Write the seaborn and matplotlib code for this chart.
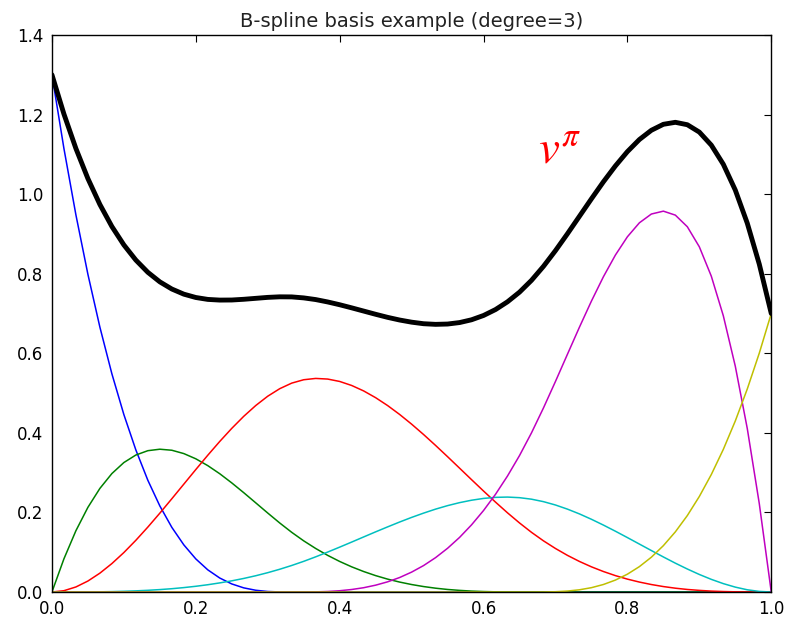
import numpy as np
import seaborn as sns
import matplotlib.pyplot as plt

# x grid shared by all curves (61 points on [0, 1])
x = np.linspace(0, 1, 61)

blue = [1.3, 1.1146, 0.9477, 0.7984, 0.6656, 0.5484, 0.4459, 0.3570, 0.2808, 0.2163,
        0.1625, 0.1185, 0.0832, 0.0557, 0.0351, 0.0203, 0.0104, 0.0044, 0.0013, 0.0002,
        0, 0, 0, 0, 0, 0, 0, 0, 0, 0,
        0, 0, 0, 0, 0, 0, 0, 0, 0, 0,
        0, 0, 0, 0, 0, 0, 0, 0, 0, 0,
        0, 0, 0, 0, 0, 0, 0, 0, 0, 0, 0]

green = [0, 0.0834, 0.1541, 0.2128, 0.2604, 0.2977, 0.3254, 0.3443, 0.3552, 0.3589,
         0.3563, 0.3479, 0.3348, 0.3176, 0.2972, 0.2742, 0.2496, 0.2241, 0.1985, 0.1735,
         0.15, 0.1286, 0.1094, 0.0921, 0.0768, 0.0633, 0.0515, 0.0412, 0.0324, 0.0250,
         0.0188, 0.0137, 0.0096, 0.0064, 0.0041, 0.0023, 0.0012, 0.0005, 0.0002, 0,
         0, 0, 0, 0, 0, 0, 0, 0, 0, 0,
         0, 0, 0, 0, 0, 0, 0, 0, 0, 0, 0]

red = [0, 0.0033, 0.0127, 0.0276, 0.0474, 0.0715, 0.0992, 0.1300, 0.1632, 0.1982,
       0.2344, 0.2711, 0.3078, 0.3438, 0.3785, 0.4113, 0.4416, 0.4687, 0.4921, 0.5110,
       0.525, 0.5335, 0.5368, 0.5352, 0.5292, 0.5191, 0.5054, 0.4884, 0.4686, 0.4463,
       0.4219, 0.3958, 0.3684, 0.3401, 0.3113, 0.2824, 0.2538, 0.2259, 0.1990, 0.1736,
       0.15, 0.1286, 0.1094, 0.0921, 0.0768, 0.0633, 0.0515, 0.0412, 0.0324, 0.0250,
       0.0188, 0.0137, 0.0096, 0.0064, 0.0041, 0.0023, 0.0012, 0.0005, 0.0002, 0, 0]

cyan = [0, 0, 0.0001, 0.0002, 0.0005, 0.0010, 0.0018, 0.0029, 0.0043, 0.0061,
        0.0083, 0.0111, 0.0144, 0.0183, 0.0229, 0.0281, 0.0341, 0.0409, 0.0486, 0.0572,
        0.0667, 0.0771, 0.0884, 0.1004, 0.1128, 0.1255, 0.1384, 0.1512, 0.1637, 0.1759,
        0.1875, 0.1983, 0.2083, 0.2171, 0.2246, 0.2307, 0.2352, 0.2379, 0.2386, 0.2371,
        0.2333, 0.2271, 0.2187, 0.2083, 0.1963, 0.1828, 0.1682, 0.1528, 0.1368, 0.1205,
        0.1042, 0.0881, 0.0725, 0.0578, 0.0441, 0.0318, 0.0211, 0.0123, 0.0056, 0.0015, 0]

magenta = [0, 0, 0, 0, 0, 0, 0, 0, 0, 0,
           0, 0, 0, 0, 0, 0, 0, 0, 0, 0,
           0, 0, 0.0004, 0.0013, 0.0032, 0.0063, 0.0108, 0.0172, 0.0256, 0.0364,
           0.05, 0.0665, 0.0864, 0.1099, 0.1372, 0.1688, 0.2048, 0.2456, 0.2916, 0.3429,
           0.4, 0.4627, 0.5292, 0.5976, 0.6656, 0.7312, 0.7924, 0.8469, 0.8928, 0.9279,
           0.95, 0.9572, 0.9472, 0.9180, 0.8676, 0.7937, 0.6944, 0.5675, 0.4108, 0.2224, 0]

yellow = [0, 0, 0, 0, 0, 0, 0, 0, 0, 0,
          0, 0, 0, 0, 0, 0, 0, 0, 0, 0,
          0, 0, 0, 0, 0, 0, 0, 0, 0, 0,
          0, 0, 0, 0, 0, 0, 0, 0, 0, 0,
          0, 0.0001, 0.0007, 0.0024, 0.0056, 0.0109, 0.0189, 0.0300, 0.0448, 0.0638,
          0.0875, 0.1165, 0.1512, 0.1922, 0.2401, 0.2953, 0.3584, 0.4299, 0.5103, 0.6002, 0.7]

# the black spline v^pi
spline = [1.3, 1.2013, 1.1146, 1.0390, 0.9739, 0.9186, 0.8723, 0.8342, 0.8035, 0.7795,
          0.7615, 0.7486, 0.7402, 0.7354, 0.7337, 0.7339, 0.7357, 0.7381, 0.7405, 0.7419,
          0.7417, 0.7392, 0.7350, 0.7290, 0.7220, 0.7142, 0.7061, 0.6980, 0.6903, 0.6836,
          0.6782, 0.6743, 0.6727, 0.6735, 0.6772, 0.6842, 0.6950, 0.7099, 0.7294, 0.7536,
          0.7833, 0.8185, 0.8580, 0.9004, 0.9443, 0.9882, 1.0310, 1.0709, 1.1068, 1.1372,
          1.1605, 1.1755, 1.1805, 1.1744, 1.1559, 1.1231, 1.0751, 1.0102, 0.9269, 0.8241, 0.7]

sns.set_style("white")
plt.rcParams['font.family'] = ['DejaVu Sans']
plt.rcParams['mathtext.fontset'] = 'stix'
plt.rcParams['xtick.direction'] = 'in'
plt.rcParams['ytick.direction'] = 'in'
plt.rcParams['xtick.top'] = True
plt.rcParams['ytick.right'] = True
plt.rcParams['lines.solid_joinstyle'] = 'round'

fig = plt.figure(figsize=(7.87, 6.19), dpi=100)
ax = fig.add_axes([0.066, 0.0436, 0.914, 0.8999])

basis = [(blue, (0, 0, 1)), (green, (0, 0.5, 0)), (red, (1, 0, 0)),
         (cyan, (0, 0.75, 0.75)), (magenta, (0.75, 0, 0.75)), (yellow, (0.75, 0.75, 0))]
for vals, col in basis:
    sns.lineplot(x=x, y=vals, color=col, linewidth=1.1, ax=ax)
sns.lineplot(x=x, y=spline, color='black', linewidth=3.5, ax=ax)

ax.set_xlim(0, 1)
ax.set_ylim(0, 1.4)
ax.set_xticks([0, 0.2, 0.4, 0.6, 0.8, 1.0])
ax.set_yticks([0, 0.2, 0.4, 0.6, 0.8, 1.0, 1.2, 1.4])
ax.tick_params(labelsize=12, length=5, width=0.8, colors='black', pad=6)
for s in ax.spines.values():
    s.set_color('black')
    s.set_linewidth(1.0)
ax.set_title("B-spline basis example (degree=3)", fontsize=14, color='#222222')
ax.text(0.676, 1.078, r"$v^{\pi}$", color='red', fontsize=34)

fig.savefig("out.png", dpi=100)
